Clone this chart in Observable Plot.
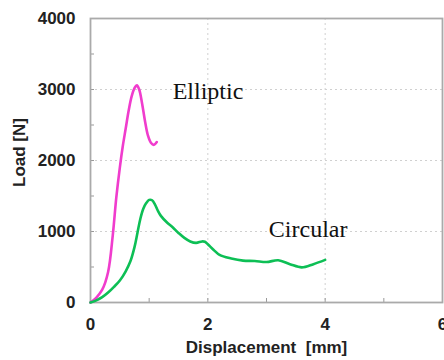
<!DOCTYPE html>
<html>
<head>
<meta charset="utf-8">
<script src="https://cdn.jsdelivr.net/npm/d3@7"></script>
<script src="https://cdn.jsdelivr.net/npm/@observablehq/plot@0.6"></script>
<style>
  html, body { margin: 0; padding: 0; background: #fff; }
  #chart svg { display: block; }
</style>
</head>
<body>
<div id="chart"></div>
<script>
// Displacement [mm] vs Load [N]
const ellipticX = [0, 0.1, 0.2, 0.3, 0.38, 0.44, 0.5, 0.55, 0.6, 0.65, 0.7, 0.75, 0.79, 0.83, 0.88, 0.93, 0.98, 1.03, 1.08, 1.13];
const ellipticY = [0, 70, 180, 430, 950, 1480, 1900, 2200, 2450, 2700, 2900, 3020, 3060, 3000, 2800, 2550, 2350, 2250, 2220, 2260];

const circularX = [0, 0.1, 0.2, 0.3, 0.4, 0.5, 0.6, 0.68, 0.75, 0.8, 0.85, 0.9, 0.95, 1.0, 1.05, 1.1, 1.15, 1.2, 1.3, 1.4, 1.5, 1.6, 1.7, 1.8, 1.9, 1.95, 2.0, 2.1, 2.2, 2.4, 2.6, 2.8, 3.0, 3.2, 3.4, 3.6, 3.8, 4.0];
const circularY = [0, 30, 75, 140, 220, 310, 440, 580, 780, 980, 1180, 1320, 1400, 1445, 1440, 1380, 1290, 1220, 1130, 1060, 980, 910, 860, 840, 860, 855, 820, 740, 670, 620, 590, 585, 570, 595, 540, 495, 540, 600];

const seriesNames = ["Elliptic", "Circular"];
const seriesColors = ["#f03ccd", "#0dbf55"];

const xMajor = [0, 2, 4, 6];
const xMinor = [0, 1, 2, 3, 4, 5, 6];
const yMajor = [0, 1000, 2000, 3000, 4000];
const yMinor = [0, 500, 1000, 1500, 2000, 2500, 3000, 3500, 4000];
const xGrid = [2, 4];
const yGrid = [1000, 2000, 3000];

const xLabel = "Displacement\u00a0\u00a0[mm]";
const yLabel = "Load [N]";

const labelPos = [
  {name: "Elliptic", x: 1.4, y: 2970},
  {name: "Circular", x: 3.04, y: 1025}
];

const elliptic = ellipticX.map((x, i) => ({x, y: ellipticY[i]}));
const circular = circularX.map((x, i) => ({x, y: circularY[i]}));

const sans = "'Liberation Sans', Arial, sans-serif";
const serif = "'Liberation Serif', 'Times New Roman', serif";

const chart = Plot.plot({
  width: 444,
  height: 360,
  marginLeft: 90,
  marginRight: 2,
  marginTop: 18,
  marginBottom: 58,
  style: {fontFamily: sans, background: "#fff"},
  x: {domain: [0, 6]},
  y: {domain: [0, 4000]},
  marks: [
    Plot.gridX(xGrid, {stroke: "#d0d0d0", strokeOpacity: 1, strokeDasharray: "2,3"}),
    Plot.gridY(yGrid, {stroke: "#d0d0d0", strokeOpacity: 1, strokeDasharray: "2,3"}),
    // inward minor/major ticks
    Plot.ruleY(yMinor, {y: d => d, x1: 0, x2: 0, insetRight: -4, stroke: "#999", strokeWidth: 1}),
    Plot.ruleX(xMinor, {x: d => d, y1: 0, y2: 0, insetTop: -4, stroke: "#999", strokeWidth: 1}),
    Plot.frame({stroke: "#aaaaaa", strokeWidth: 1.8}),
    Plot.axisY(yMajor, {tickSize: 0, tickPadding: 15, tickFormat: d3.format("d"), fontSize: 17, fontWeight: "bold", fill: "#222", label: null}),
    Plot.axisX(xMajor, {tickSize: 0, tickPadding: 15, tickFormat: d3.format("d"), fontSize: 17, fontWeight: "bold", fill: "#222", label: null}),
    Plot.line(elliptic, {x: "x", y: "y", stroke: seriesColors[0], strokeWidth: 2.6, curve: "catmull-rom"}),
    Plot.line(circular, {x: "x", y: "y", stroke: seriesColors[1], strokeWidth: 2.6, curve: "catmull-rom"}),
    Plot.text(labelPos, {x: "x", y: "y", text: "name", textAnchor: "start", lineAnchor: "middle", fontSize: 24, fontFamily: serif, fill: "#111"}),
    Plot.text([yLabel], {frameAnchor: "left", rotate: -90, dx: -71, dy: -8, textAnchor: "middle", lineAnchor: "middle", fontSize: 17, fontWeight: "bold", fill: "#222"}),
    Plot.text([xLabel], {frameAnchor: "bottom", dy: 45, textAnchor: "middle", lineAnchor: "middle", fontSize: 17, fontWeight: "bold", fill: "#222"})
  ]
});
document.getElementById("chart").appendChild(chart);
</script>
</body>
</html>
